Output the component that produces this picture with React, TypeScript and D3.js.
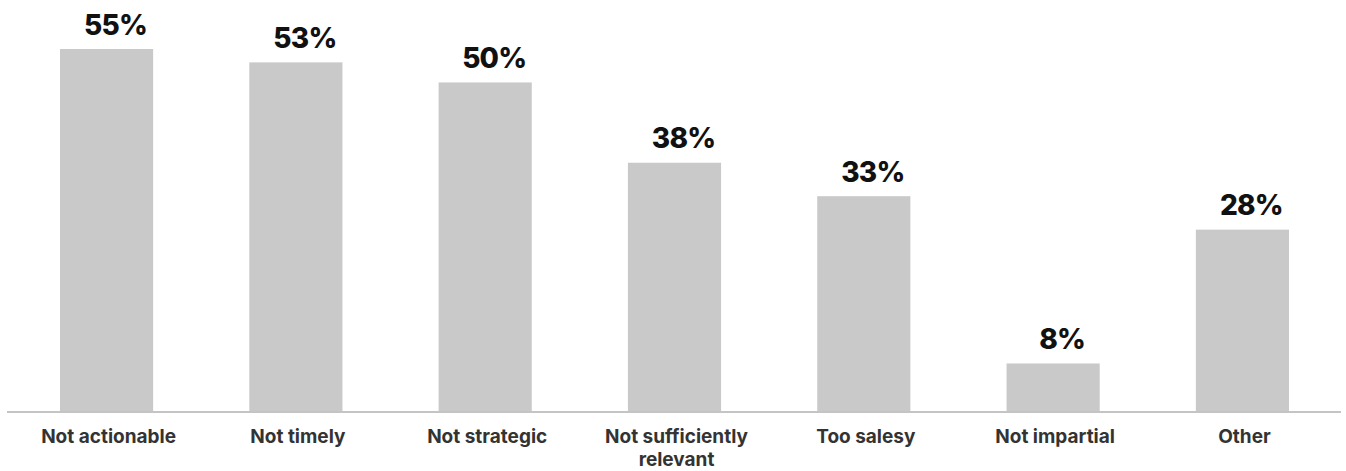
import React from "react";
import * as d3 from "d3";

const categories = [
  "Not actionable",
  "Not timely",
  "Not strategic",
  "Not sufficiently\nrelevant",
  "Too salesy",
  "Not impartial",
  "Other",
];
const values = [55, 53, 50, 38, 33, 8, 28];
const valueLabels = ["55%", "53%", "50%", "38%", "33%", "8%", "28%"];

const W = 1346;
const H = 471;
const BASE = 411;

export default function App() {
  const x = d3
    .scaleBand<string>()
    .domain(categories)
    .range([60, 1289])
    .paddingInner(0.508)
    .paddingOuter(0);
  const y = d3.scaleLinear().domain([0, 55]).range([417, 49]);

  return (
    <svg
      width={W}
      height={H}
      style={{ position: "absolute", left: 0, top: 0, background: "#fff" }}
      fontFamily="Inter, 'Open Sans', sans-serif"
    >
      {categories.map((c, i) => {
        const x0 = x(c)!;
        const bw = x.bandwidth();
        const top = y(values[i]);
        const cx = x0 + bw / 2;
        return (
          <g key={c}>
            <rect x={x0} y={top} width={bw} height={BASE - top} fill="#c8c9c8" />
            <text
              x={cx + 9}
              y={top - 14.5}
              textAnchor="middle"
              fontSize={28}
              fontWeight={800}
              letterSpacing={-0.8}
              fill="#111"
            >
              {valueLabels[i]}
            </text>
            {c.split("\n").map((line, j) => (
              <text
                key={j}
                x={cx + 2}
                y={443 + j * 23}
                textAnchor="middle"
                fontSize={19}
                fontWeight={700}
                fill="#333"
              >
                {line}
              </text>
            ))}
          </g>
        );
      })}
      <line x1={7} x2={1341} y1={412} y2={412} stroke="#c4c4c4" strokeWidth={2} />
    </svg>
  );
}
